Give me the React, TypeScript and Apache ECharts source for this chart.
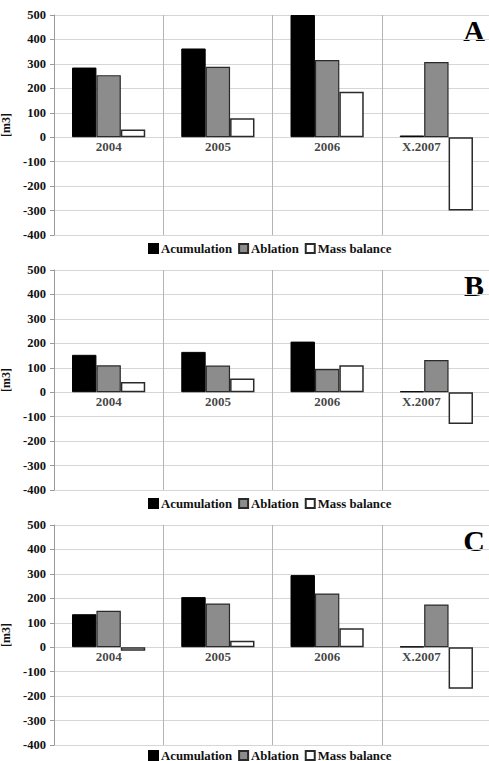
import React, { useEffect, useRef } from "react";
import * as echarts from "echarts";

const categories = ["2004", "2005", "2006", "X.2007"];
const seriesNames = ["Acumulation", "Ablation", "Mass balance"];
const panelLetters = ["A", "B", "C"];

const accA = [285, 363, 500, 7];
const ablA = [254, 288, 316, 308];
const mbA = [32, 78, 186, -300];

const accB = [153, 165, 207, 4];
const ablB = [110, 109, 95, 132];
const mbB = [42, 56, 110, -130];

const accC = [135, 205, 295, 3];
const ablC = [149, 179, 220, 175];
const mbC = [-14, 26, 78, -170];

const panels = [
  [accA, ablA, mbA],
  [accB, ablB, mbB],
  [accC, ablC, mbC],
];

const FONT = "Liberation Serif";
const TEXT = "#111";

export default function App() {
  const ref = useRef<HTMLDivElement>(null);
  useEffect(() => {
    if (!ref.current) return;
    const chart = echarts.init(ref.current, null, { renderer: "svg" });
    const panelStep = 255;
    const grids: any[] = [];
    const xAxes: any[] = [];
    const yAxes: any[] = [];
    const series: any[] = [];
    const legends: any[] = [];
    const graphics: any[] = [];
    const styles = [
      { color: "#000", borderColor: "#000", borderWidth: 1 },
      { color: "#8c8c8c", borderColor: "#2a2a2a", borderWidth: 1.2 },
      { color: "#fff", borderColor: "#2a2a2a", borderWidth: 1.5 },
    ];
    panels.forEach((vals, i) => {
      const top = 15 + i * panelStep;
      grids.push({
        left: 54,
        top,
        width: 437,
        height: 220,
        containLabel: false,
        outerBoundsMode: "none",
      });
      xAxes.push({
        type: "category",
        gridIndex: i,
        data: categories,
        axisLine: { show: false },
        axisTick: { show: false },
        axisLabel: { show: false },
        splitLine: { show: true, lineStyle: { color: "#b4b4b4", width: 1 } },
      });
      yAxes.push({
        type: "value",
        gridIndex: i,
        min: -400,
        max: 500,
        interval: 100,
        name: "[m3]",
        nameLocation: "middle",
        nameGap: 36,
        nameTextStyle: { color: TEXT, fontFamily: FONT, fontWeight: "bold", fontSize: 12 },
        axisLine: { show: true, lineStyle: { color: "#9a9a9a", width: 1 } },
        axisTick: { show: true, length: 4, lineStyle: { color: "#9a9a9a" } },
        axisLabel: { margin: 8, color: TEXT, fontFamily: FONT, fontWeight: "bold", fontSize: 12.5 },
        splitLine: { show: true, lineStyle: { color: "#d6d6d6", width: 1 } },
      });
      vals.forEach((data, k) => {
        series.push({
          type: "bar",
          name: seriesNames[k],
          xAxisIndex: i,
          yAxisIndex: i,
          data,
          barGap: "0%",
          barCategoryGap: "33%",
          itemStyle: styles[k],
          emphasis: { disabled: true },
        });
      });
      // category labels sitting on the zero line
      series.push({
        type: "scatter",
        name: "categoryLabels",
        xAxisIndex: i,
        yAxisIndex: i,
        symbolSize: 0,
        silent: true,
        z: 10,
        data: categories.map((c) => ({
          value: [c, 0],
          label: c === "X.2007" ? { offset: [-15, 0] } : undefined,
        })),
        label: {
          show: true,
          position: "bottom",
          distance: 3,
          formatter: (p: any) => p.value[0],
          color: TEXT,
          fontFamily: FONT,
          fontWeight: "bold",
          fontSize: 13,
        },
      });
      legends.push({
        data: seriesNames,
        left: 148,
        top: top + (i === 2 ? 224 : 227),
        padding: 0,
        itemWidth: 9,
        itemHeight: 9,
        itemGap: 6,
        icon: "rect",
        selectedMode: false,
        textStyle: { color: TEXT, fontFamily: FONT, fontWeight: "bold", fontSize: 12.8, padding: [0, 0, 0, -2] },
      });
      graphics.push({
        type: "text",
        x: 474,
        y: 30.5 + i * panelStep,
        style: {
          text: panelLetters[i],
          fill: "#000",
          font: `bold 30px ${FONT}`,
          textAlign: "center",
          textVerticalAlign: "middle",
        },
      });
    });
    chart.setOption({
      animation: false,
      backgroundColor: "#fff",
      textStyle: { fontFamily: FONT },
      grid: grids,
      xAxis: xAxes,
      yAxis: yAxes,
      series,
      legend: legends,
      graphic: graphics,
    });
    return () => chart.dispose();
  }, []);
  return (
    <div
      ref={ref}
      style={{ position: "fixed", left: 0, top: 0, width: 489, height: 761, background: "#fff" }}
    />
  );
}
